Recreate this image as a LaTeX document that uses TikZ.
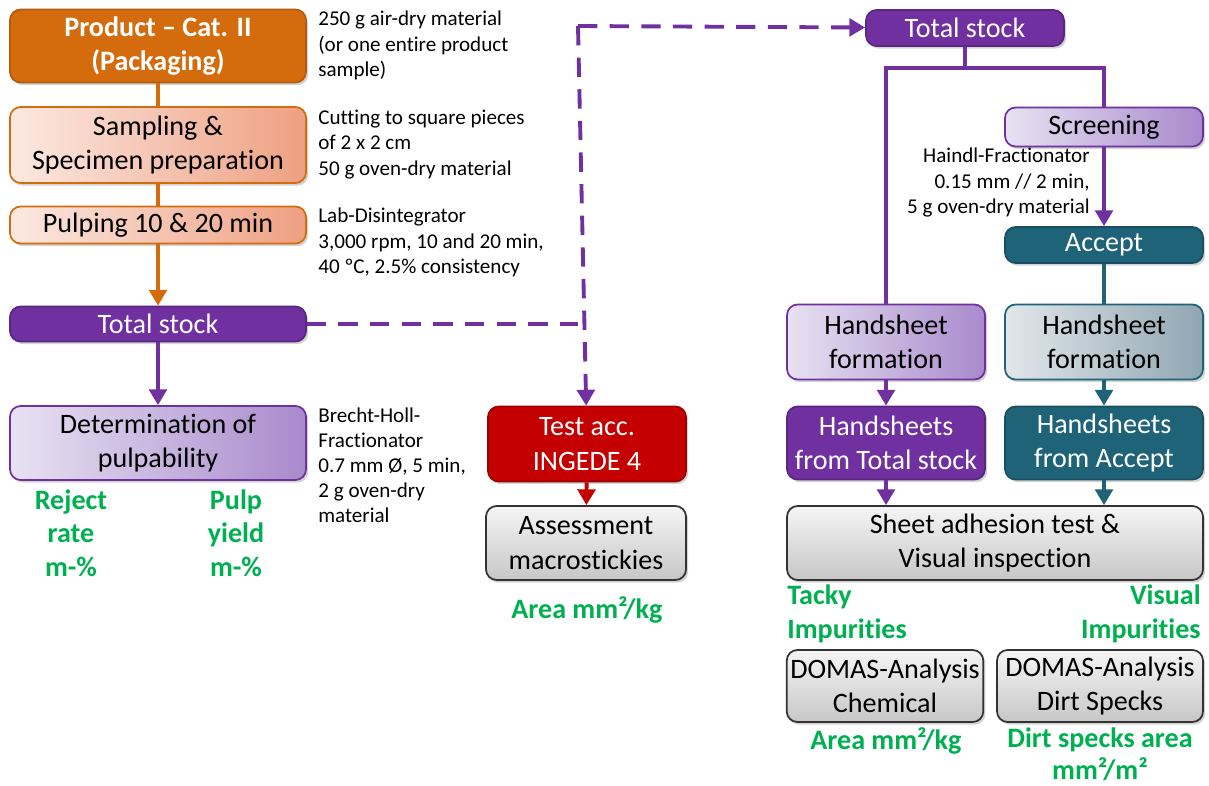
\documentclass[tikz,border=0pt]{standalone}
\usepackage{fontspec}
\setmainfont{Carlito}[RawFeature={-liga}]
\usetikzlibrary{arrows.meta,shadows,calc}

\definecolor{prodorange}{RGB}{212,108,14}
\definecolor{pinklight}{RGB}{252,233,226}
\definecolor{pinkdark}{RGB}{238,160,130}
\definecolor{stockpurple}{RGB}{112,48,160}
\definecolor{lavlight}{RGB}{232,226,242}
\definecolor{lavdark}{RGB}{168,138,204}
\definecolor{accteal}{RGB}{31,99,120}
\definecolor{bluelight}{RGB}{226,231,235}
\definecolor{bluedark}{RGB}{143,166,178}
\definecolor{testred}{RGB}{196,0,0}
\definecolor{resgreen}{RGB}{0,176,80}

\begin{document}
\begin{tikzpicture}[x=0.02cm,y=-0.02cm,
    every node/.style={font=\fontsize{16}{19.5}\selectfont},
    box/.style={rounded corners=6pt,line width=1pt,align=center,inner sep=2pt,
                drop shadow={shadow xshift=1.2pt,shadow yshift=-1.5pt,opacity=0.35}},
    solidbox/.style={box,text=white},
    prodbox/.style={solidbox,fill=prodorange,draw=prodorange!85!black,font=\fontsize{16}{19.5}\selectfont\bfseries},
    pinkbox/.style={box,draw=prodorange,left color=pinklight,right color=pinkdark},
    stockbox/.style={solidbox,fill=stockpurple,draw=stockpurple!80!black},
    lavbox/.style={box,draw=stockpurple,left color=lavlight,right color=lavdark},
    tealbox/.style={solidbox,fill=accteal,draw=accteal!80!black},
    bluebox/.style={box,draw=accteal,left color=bluelight,right color=bluedark},
    redbox/.style={solidbox,fill=testred,draw=testred!80!black},
    greybox/.style={box,draw=black!80,top color=black!4,bottom color=black!22},
    note/.style={inner sep=0pt,font=\fontsize{12}{14.3}\selectfont},
    result/.style={inner sep=0pt,text=resgreen,font=\fontsize{16}{19}\selectfont\bfseries},
    flow/.style={line width=2.2pt},
    tip/.style={-{Triangle[length=9pt,width=10pt]}},
    dashflow/.style={flow,stockpurple,dash pattern=on 11pt off 7pt}]

  \useasboundingbox (0,0) rectangle (1209,785);

  % left column
  \node[prodbox,minimum width=5.92cm,minimum height=1.46cm]  (prod) at (158,46)  {Product – Cat. II\\(Packaging)};
  \node[pinkbox,minimum width=5.92cm,minimum height=1.52cm]  (samp) at (158,145) {Sampling \&\\Specimen preparation};
  \node[pinkbox,minimum width=5.92cm,minimum height=0.74cm]  (pulp) at (158,225) {Pulping 10 \& 20 min};
  \node[stockbox,minimum width=5.92cm,minimum height=0.70cm] (tsL)  at (158,324) {Total stock};
  \node[lavbox,minimum width=5.92cm,minimum height=1.48cm]   (det)  at (158,443) {Determination of\\pulpability};

  \node[note,anchor=north west,align=left] (n1) at (318,11)  {250 g air-dry material\\(or one entire product\\sample)};
  \node[note,anchor=north west,align=left] (n2) at (318,110) {Cutting to square pieces\\of 2 x 2 cm\\50 g oven-dry material};
  \node[note,anchor=north west,align=left] (n3) at (318,208) {Lab-Disintegrator\\3,000 rpm, 10 and 20 min,\\40 ºC, 2.5\% consistency};
  \node[note,anchor=north west,align=left] (n4) at (318,407) {Brecht-Holl-\\Fractionator\\0.7 mm Ø, 5 min,\\2 g oven-dry\\material};

  \node[result,align=center] (rej)  at (71,533)  {Reject\\rate\\m-\%};
  \node[result,align=center] (yld)  at (236,533) {Pulp\\yield\\m-\%};

  % middle column
  \node[redbox,minimum width=3.96cm,minimum height=1.50cm]  (test) at (587,444) {Test acc.\\INGEDE 4};
  \node[greybox,minimum width=4.00cm,minimum height=1.48cm] (macro) at (586,543) {Assessment\\macrostickies};
  \node[result] (areaM) at (587,610) {Area mm²/kg};

  % right columns
  \node[stockbox,minimum width=3.96cm,minimum height=0.72cm] (tsR)  at (965,28)   {Total stock};
  \node[lavbox,minimum width=3.96cm,minimum height=0.78cm]   (scr)  at (1104,127) {Screening};
  \node[tealbox,minimum width=3.96cm,minimum height=0.72cm]  (acc)  at (1104,245) {Accept};
  \node[note,anchor=north east,align=right] (n5) at (1090,148) {Haindl-Fractionator\\0.15 mm // 2 min,\\5 g oven-dry material};

  \node[lavbox,minimum width=3.96cm,minimum height=1.50cm]   (hfL)  at (886,342)  {Handsheet\\formation};
  \node[bluebox,minimum width=3.96cm,minimum height=1.50cm]  (hfR)  at (1104,342) {Handsheet\\formation};
  \node[stockbox,minimum width=3.96cm,minimum height=1.46cm] (hsL)  at (886,443)  {Handsheets\\from Total stock};
  \node[tealbox,minimum width=3.96cm,minimum height=1.46cm]  (hsR)  at (1104,443) {Handsheets\\from Accept};
  \node[greybox,minimum width=8.32cm,minimum height=1.48cm]  (sheet) at (995,543) {Sheet adhesion test \&\\Visual inspection};

  \node[result,anchor=west,align=left]   (tacky)  at (787,614)  {Tacky\\Impurities};
  \node[result,anchor=east,align=right]  (visual) at (1201,614) {Visual\\Impurities};
  \node[greybox,minimum width=3.92cm,minimum height=1.44cm] (domC) at (885,686)  {DOMAS-Analysis\\Chemical};
  \node[greybox,minimum width=4.12cm,minimum height=1.44cm] (domD) at (1100,686) {DOMAS-Analysis\\Dirt Specks};
  \node[result] (areaC) at (886,741) {Area mm²/kg};
  \node[result,align=center,font=\fontsize{16}{18}\selectfont\bfseries] (dirt) at (1100,754) {Dirt specks area\\mm²/m²};

  \coordinate (jn)    at (578,324);
  \coordinate (jt)    at (578,26);
  \coordinate (split) at (965,68);

  % connectors
  \draw[flow,prodorange] (prod) -- (samp);
  \draw[flow,prodorange] (samp) -- (pulp);
  \draw[flow,prodorange,tip] (pulp) -- (tsL);
  \draw[flow,stockpurple,tip] (tsL) -- (det);

  \draw[dashflow] (tsL) -- (jn);
  \draw[dashflow,tip] (jt) -- (test);
  \draw[dashflow,tip] (jt) -- (tsR);
  \draw[flow,testred,tip] (test) -- (macro);

  \draw[flow,stockpurple] (tsR) -- (split);
  \draw[flow,stockpurple] (split) -| (hfL);
  \draw[flow,stockpurple] (split) -| (scr);
  \draw[flow,stockpurple,tip] (scr) -- (acc);
  \draw[flow,accteal] (acc) -- (hfR);
  \draw[flow,stockpurple,tip] (hfL) -- (hsL);
  \draw[flow,accteal,tip] (hfR) -- (hsR);
  \draw[flow,stockpurple,tip] (hsL.south) -- (hsL.south |- sheet.north);
  \draw[flow,accteal,tip] (hsR.south) -- (hsR.south |- sheet.north);
\end{tikzpicture}
\end{document}
